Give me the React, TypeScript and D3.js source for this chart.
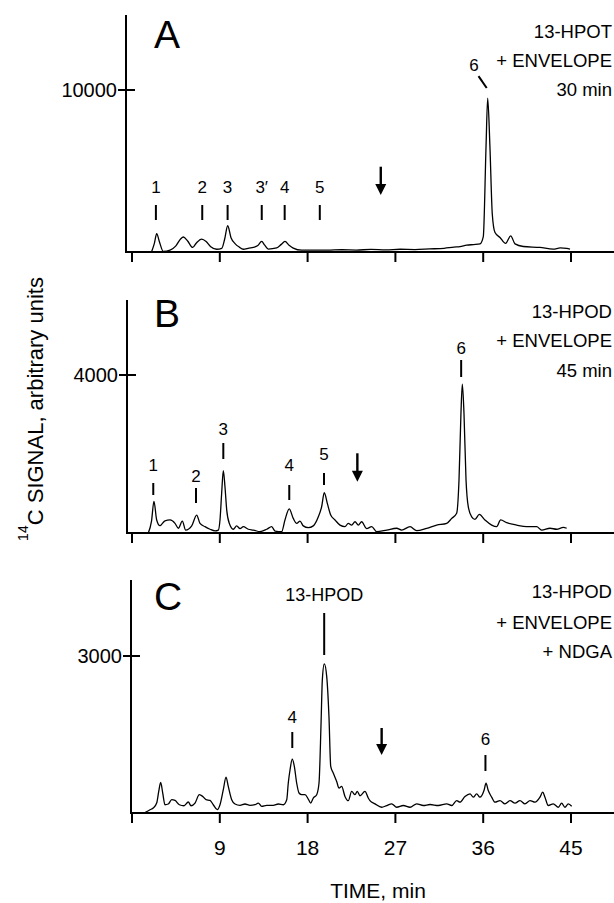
import React from "react";
import * as d3 from "d3";

// ---------- DATA ----------
const timeTicks = [0, 9, 18, 27, 36, 45];
const timeTickLabels = ["", "9", "18", "27", "36", "45"];
const panelLetters = ["A", "B", "C"];
const yRefValues = [10000, 4000, 3000];
const conditionsA = ["13-HPOT", "+ ENVELOPE", "30 min"];
const conditionsB = ["13-HPOD", "+ ENVELOPE", "45 min"];
const conditionsC = ["13-HPOD", "+ ENVELOPE", "+ NDGA"];

// [time (min), 14C signal]
const traceA: [number, number][] = [
  [2.0, 0], [2.3, 550], [2.53, 1130], [2.8, 650], [3.2, 40], [3.9, 120], [4.5, 380], [5.0, 820],
  [5.26, 926], [5.7, 680], [6.22, 280], [6.6, 560], [7.14, 800], [7.6, 650], [8.07, 330], [8.68, 170],
  [9.2, 230], [9.5, 800], [9.81, 1620], [10.15, 880], [10.56, 520], [11.0, 300], [11.41, 170],
  [12.0, 240], [12.43, 280], [12.9, 400], [13.29, 650], [13.6, 420], [13.97, 180], [14.83, 250],
  [15.3, 470], [15.68, 650], [16.1, 420], [16.53, 240], [17.39, 110], [18.5, 120], [20, 110],
  [21.5, 140], [23, 120], [24.5, 160], [26, 130], [27.5, 170], [29, 150], [30.5, 190], [32, 230],
  [33.0, 300], [33.62, 330], [34.31, 420], [35.0, 460], [35.67, 500], [36.01, 950], [36.29, 6500],
  [36.46, 9500], [36.69, 6500], [36.93, 2350], [37.21, 1200], [37.72, 900], [38.3, 530], [38.82, 1000],
  [39.26, 500], [40.11, 340], [41.82, 280], [43.18, 180], [43.9, 250], [44.56, 220], [44.9, 180],
];

const traceB: [number, number][] = [
  [1.67, 0], [2.0, 300], [2.25, 800], [2.53, 330], [2.87, 185], [3.38, 310], [3.9, 330], [4.41, 245],
  [4.75, 120], [5.16, 300], [5.5, 75], [6.12, 180], [6.63, 455], [6.97, 245], [7.48, 160], [8.0, 95],
  [8.51, 55], [8.85, 75], [9.02, 330], [9.19, 1005], [9.36, 1577], [9.53, 1170], [9.71, 580],
  [9.97, 245], [10.38, 95], [10.73, 180], [11.07, 110], [11.41, 160], [11.92, 95], [12.43, 75],
  [13.12, 35], [13.81, 95], [14.32, 160], [14.66, 50], [15.34, 35], [15.68, 330], [16.12, 610],
  [16.53, 370], [16.88, 245], [17.22, 300], [17.56, 180], [18.07, 135], [18.58, 180], [19.1, 410],
  [19.44, 665], [19.71, 1020], [20.02, 750], [20.37, 455], [20.81, 330], [21.32, 200], [21.83, 160],
  [22.17, 245], [22.52, 200], [22.86, 285], [23.2, 200], [23.54, 285], [24.06, 110], [24.57, 160],
  [25.08, 35], [26.11, 75], [27.13, 120], [27.64, 75], [28.5, 160], [29.18, 60], [30.21, 120],
  [31.23, 200], [32.26, 245], [32.77, 370], [33.28, 500], [33.52, 1340], [33.72, 3030], [33.86, 3770],
  [34.03, 3030], [34.24, 1340], [34.47, 665], [34.82, 410], [35.16, 345], [35.6, 470], [36.18, 330],
  [36.87, 200], [37.38, 160], [37.79, 330], [38.41, 260], [39.43, 200], [40.46, 160], [41.48, 160],
  [41.99, 75], [42.85, 120], [43.53, 95], [44.21, 140], [44.56, 120],
];

const traceC: [number, number][] = [
  [1.33, 10], [1.85, 63], [2.18, 95], [2.53, 190], [2.74, 412], [2.94, 584], [3.15, 382], [3.38, 158],
  [3.72, 172], [4.07, 254], [4.41, 240], [4.85, 158], [5.33, 139], [5.77, 210], [6.05, 139],
  [6.46, 190], [6.9, 350], [7.25, 317], [7.59, 254], [8.0, 240], [8.33, 158], [8.74, 63], [9.02, 158],
  [9.36, 445], [9.64, 687], [9.87, 508], [10.22, 254], [10.56, 172], [11.07, 145], [11.58, 172],
  [12.1, 145], [12.61, 158], [12.95, 190], [13.29, 126], [13.81, 145], [14.48, 145], [15.0, 172],
  [15.51, 158], [15.86, 254], [16.02, 573], [16.2, 826], [16.43, 1030], [16.64, 890], [16.88, 573],
  [17.12, 382], [17.39, 350], [17.73, 350], [18.07, 267], [18.32, 190], [18.58, 286], [18.93, 350],
  [19.17, 573], [19.38, 1718], [19.51, 2544], [19.71, 2849], [19.96, 2607], [20.19, 1843],
  [20.37, 890], [20.63, 763], [20.98, 603], [21.22, 477], [21.49, 508], [21.83, 317], [22.17, 235],
  [22.52, 412], [22.86, 350], [23.09, 412], [23.37, 330], [23.88, 412], [24.22, 286], [24.39, 238],
  [24.91, 175], [25.59, 110], [26.11, 143], [26.62, 175], [27.13, 110], [27.81, 143], [28.5, 110],
  [29.18, 175], [29.86, 143], [30.55, 162], [31.4, 143], [32.26, 175], [32.77, 143], [33.28, 238],
  [33.62, 206], [34.13, 315], [34.65, 366], [34.98, 302], [35.33, 366], [35.67, 302], [36.08, 429],
  [36.29, 569], [36.52, 429], [36.87, 302], [37.21, 206], [37.72, 238], [38.23, 175], [38.75, 238],
  [39.26, 187], [39.77, 238], [40.28, 175], [40.8, 238], [41.31, 206], [41.82, 302], [42.1, 397],
  [42.33, 302], [42.67, 143], [43.18, 175], [43.7, 110], [44.04, 187], [44.38, 110], [44.72, 175],
  [45.07, 130],
];

// peak annotations: text, time, tick low / high level, text level (data units)
const peakTextA = ["1", "2", "3", "3\u2032", "4", "5"];
const peakTimeA = [2.45, 7.2, 9.8, 13.3, 15.65, 19.25];
const peakLowA = [1975, 1975, 1975, 1975, 1975, 1975];
const peakHighA = [2900, 2900, 2900, 2900, 2900, 2900];
const peakTextLevelA = [3640, 3640, 3640, 3640, 3640, 3640];
// slanted marker for peak 6 in A: [textTime, textLevel, t1, v1, t2, v2]
const peak6A = [35.06, 11170, 35.52, 10860, 36.36, 10120];

const peakTextB = ["1", "2", "3", "4", "5", "6"];
const peakTimeB = [2.18, 6.56, 9.36, 16.12, 19.68, 33.74];
const peakLowB = [962, 759, 1873, 835, 1215, 3949];
const peakHighB = [1266, 1139, 2278, 1215, 1519, 4380];
const peakTextLevelB = [1560, 1300, 2480, 1560, 1850, 4520];

const peakTextC = ["13-HPOD", "4", "6"];
const peakTimeC = [19.7, 16.43, 36.23];
const peakLowC = [3019, 1242, 803];
const peakHighC = [3822, 1548, 1108];
const peakTextLevelC = [4051, 1720, 1299];

// arrows: time, top level, tip level
const arrowA = [25.5, 5265, 3518];
const arrowB = [23.1, 2018, 1299];
const arrowC = [25.59, 1624, 1108];

// ---------- LAYOUT / STYLE ----------
const W = 614;
const H = 903;
const FONT = "'Liberation Sans', Arial, Helvetica, sans-serif";
const layout = [
  { axisX: 126, top: 15, base: 252, refY: 90, letterY: 48, condY: [38, 67, 96] },
  { axisX: 127, top: 300, base: 533, refY: 375, letterY: 327, condY: [318, 347, 377] },
  { axisX: 131, top: 580, base: 813, refY: 656, letterY: 610, condY: [598, 629, 658] },
];

const x = d3.scaleLinear().domain([0, 45]).range([132, 571]);

function Panel(props: any) {
  const { idx, trace, conds, texts, times, lows, highs, textLevels, arrow, bottomLabels } = props;
  const L = layout[idx];
  const y = d3.scaleLinear().domain([0, yRefValues[idx]]).range([L.base, L.refY]);
  const line = d3
    .line<[number, number]>()
    .x((d) => x(d[0]))
    .y((d) => y(d[1]))
    .curve(d3.curveMonotoneX);
  const ax = x(arrow[0]);
  const aTop = y(arrow[1]);
  const aTip = y(arrow[2]);
  return (
    <g>
      {/* axes */}
      <line x1={L.axisX} y1={L.top} x2={L.axisX} y2={L.base + 1} stroke="#000" strokeWidth={2} />
      <line x1={L.axisX - 1} y1={L.base} x2={W} y2={L.base} stroke="#000" strokeWidth={2} />
      {timeTicks.map((t, i) => (
        <line key={"t" + i} x1={x(t)} x2={x(t)} y1={L.base} y2={L.base + 10} stroke="#000" strokeWidth={2} />
      ))}
      {bottomLabels &&
        timeTicks.map((t, i) => (
          <text key={"tl" + i} x={x(t)} y={L.base + 42} textAnchor="middle" fontSize={21} fontFamily={FONT}>
            {timeTickLabels[i]}
          </text>
        ))}
      <line x1={L.axisX - 8} x2={L.axisX + 9} y1={y(yRefValues[idx])} y2={y(yRefValues[idx])} stroke="#000" strokeWidth={2} />
      <text x={L.axisX - 9} y={y(yRefValues[idx])} dy="0.36em" textAnchor="end" fontSize={20} fontFamily={FONT}>
        {yRefValues[idx]}
      </text>
      {/* letter */}
      <text x={154} y={L.letterY} fontSize={39} fontFamily={FONT}>
        {panelLetters[idx]}
      </text>
      {/* conditions */}
      {conds.map((c: string, i: number) => (
        <text key={"c" + i} x={612} y={L.condY[i]} textAnchor="end" fontSize={18.5} fontFamily={FONT}>
          {c}
        </text>
      ))}
      {/* trace */}
      <path d={line(trace) || ""} fill="none" stroke="#000" strokeWidth={1.3} strokeLinejoin="round" />
      {/* peak labels */}
      {texts.map((s: string, i: number) => (
        <g key={"p" + i}>
          <line x1={x(times[i])} x2={x(times[i])} y1={y(lows[i])} y2={y(highs[i])} stroke="#000" strokeWidth={2} />
          <text x={x(times[i])} y={y(textLevels[i])} textAnchor="middle" fontSize={s.length > 3 ? 18 : 17} fontFamily={FONT}>
            {s}
          </text>
        </g>
      ))}
      {/* arrow */}
      <line x1={ax} x2={ax} y1={aTop} y2={aTip - 8} stroke="#000" strokeWidth={2.4} />
      <polygon points={`${ax - 5.5},${aTip - 11} ${ax + 5.5},${aTip - 11} ${ax},${aTip}`} fill="#000" />
    </g>
  );
}

export default function App() {
  const yA = d3.scaleLinear().domain([0, yRefValues[0]]).range([layout[0].base, layout[0].refY]);
  return (
    <svg
      width={W}
      height={H}
      viewBox={`0 0 ${W} ${H}`}
      style={{ position: "absolute", left: 0, top: 0, background: "#fff", display: "block" }}
    >
      <rect x={0} y={0} width={W} height={H} fill="#fff" />
      <Panel idx={0} trace={traceA} conds={conditionsA} texts={peakTextA} times={peakTimeA} lows={peakLowA}
        highs={peakHighA} textLevels={peakTextLevelA} arrow={arrowA} bottomLabels={false} />
      <text x={x(peak6A[0])} y={yA(peak6A[1])} textAnchor="middle" fontSize={17} fontFamily={FONT}>6</text>
      <line x1={x(peak6A[2])} y1={yA(peak6A[3])} x2={x(peak6A[4])} y2={yA(peak6A[5])} stroke="#000" strokeWidth={2} />
      <Panel idx={1} trace={traceB} conds={conditionsB} texts={peakTextB} times={peakTimeB} lows={peakLowB}
        highs={peakHighB} textLevels={peakTextLevelB} arrow={arrowB} bottomLabels={false} />
      <Panel idx={2} trace={traceC} conds={conditionsC} texts={peakTextC} times={peakTimeC} lows={peakLowC}
        highs={peakHighC} textLevels={peakTextLevelC} arrow={arrowC} bottomLabels={true} />
      <text x={378} y={898} textAnchor="middle" fontSize={21} fontFamily={FONT}>TIME, min</text>
      <text transform="translate(43,409) rotate(-90)" textAnchor="middle" fontSize={22} fontFamily={FONT}>
        <tspan fontSize={14} dy={-15}>14</tspan>
        <tspan dy={15}>C SIGNAL, arbitrary units</tspan>
      </text>
    </svg>
  );
}
